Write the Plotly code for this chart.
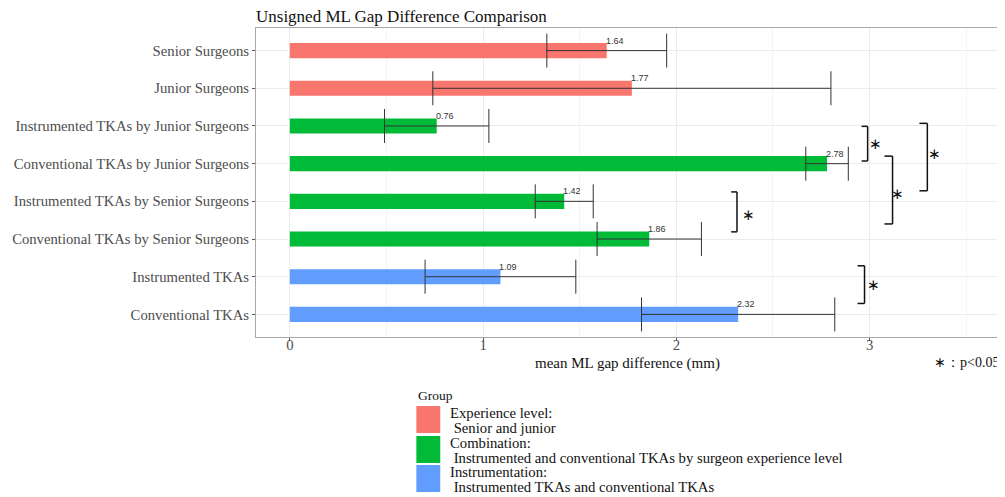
import plotly.graph_objects as go

# ---- data (bottom-to-top order on the y axis) ----
categories = [
    "Conventional TKAs",
    "Instrumented TKAs",
    "Conventional TKAs by Senior Surgeons",
    "Instrumented TKAs by Senior Surgeons",
    "Conventional TKAs by Junior Surgeons",
    "Instrumented TKAs by Junior Surgeons",
    "Junior Surgeons",
    "Senior Surgeons",
]
means = [2.32, 1.09, 1.86, 1.42, 2.78, 0.76, 1.77, 1.64]
errors = [0.50, 0.39, 0.27, 0.15, 0.11, 0.27, 1.03, 0.31]
groups = ["Instrumentation", "Instrumentation", "Combination", "Combination",
          "Combination", "Combination", "Experience", "Experience"]

group_names = ["Experience", "Combination", "Instrumentation"]
group_colors = {"Experience": "#F8766D", "Combination": "#00BA38", "Instrumentation": "#619CFF"}
legend_lines = {
    "Experience": ["Experience level:", " Senior and junior"],
    "Combination": ["Combination:", " Instrumented and conventional TKAs by surgeon experience level"],
    "Instrumentation": ["Instrumentation:", " Instrumented TKAs and conventional TKAs"],
}

# significance brackets: (x_left, x_right, y_top_index, y_bottom_index, star_x, star_y)
brackets = [
    (2.959, 2.990, 4.99, 4.07, 3.03, 4.52),
    (3.258, 3.299, 5.07, 3.28, 3.335, 4.25),
    (3.077, 3.119, 4.20, 2.40, 3.144, 3.20),
    (2.284, 2.314, 3.25, 2.19, 2.371, 2.64),
    (2.938, 2.974, 1.29, 0.29, 3.02, 0.77),
]

SERIF = "Liberation Serif, Times New Roman, serif"

# the page has an 8px body margin; figure is placed at (8, 8)
OFF = 8
W, H = 1005 - OFF, 497 - OFF

fig = go.Figure()
for g in group_names:
    idx = [i for i, gg in enumerate(groups) if gg == g]
    fig.add_trace(go.Bar(
        x=[means[i] for i in idx],
        y=[categories[i] for i in idx],
        orientation="h",
        width=0.4,
        marker=dict(color=group_colors[g], line=dict(width=0)),
        error_x=dict(type="data", array=[errors[i] for i in idx], symmetric=True,
                     color="#333333", thickness=1, width=17),
        name=g,
        showlegend=False,
        hoverinfo="x+y",
    ))

annotations = []
# value labels
for c, m in zip(categories, means):
    annotations.append(dict(
        x=m, y=c, xref="x", yref="y", text=f"{m:.2f}", showarrow=False,
        xanchor="left", yanchor="middle", xshift=-3, yshift=10,
        font=dict(family="Liberation Sans, Arial, sans-serif", size=9, color="#333333"),
    ))

shapes = []
for x0, x1, yt, yb, sx, sy in brackets:
    for (a, b, c, d) in [(x0, yt, x1, yt), (x1, yt, x1, yb), (x0, yb, x1, yb)]:
        shapes.append(dict(type="line", xref="x", yref="y", x0=a, y0=b, x1=c, y1=d,
                           line=dict(color="#111111", width=1.5)))
    annotations.append(dict(x=sx, y=sy, xref="x", yref="y", text="∗", showarrow=False,
                            xanchor="center", yanchor="middle",
                            font=dict(family=SERIF, size=15, color="#111111")))

# pixel (screen) -> paper helpers (plot area on screen: x 254..1001, y 28..337)
L, R, T, B = 254, 1001, 28, 337
def px(x):
    return (x - L) / (R - L)
def py(y):
    return (B - y) / (B - T)

# axis title
annotations.append(dict(x=px(627), y=py(363), xref="paper", yref="paper",
                        text="mean ML gap difference (mm)", showarrow=False,
                        xanchor="center", yanchor="middle",
                        font=dict(family=SERIF, size=15, color="#111111")))

# footnote
annotations.append(dict(x=px(1002), y=py(362), xref="paper", yref="paper",
                        text="∗：p<0.05", showarrow=False, xanchor="right", yanchor="middle",
                        font=dict(family=SERIF, size=14, color="#111111")))

# manual legend
annotations.append(dict(x=px(415), y=py(395), xref="paper", yref="paper", text="Group",
                        showarrow=False, xanchor="left", yanchor="middle",
                        font=dict(family=SERIF, size=13.5, color="#111111")))
key_tops = [406, 436, 465]
for g, top in zip(group_names, key_tops):
    shapes.append(dict(type="rect", xref="paper", yref="paper",
                       x0=px(415), x1=px(439), y0=py(top), y1=py(top + 27),
                       fillcolor=group_colors[g], line=dict(width=0)))
    l1, l2 = legend_lines[g]
    annotations.append(dict(x=px(447), y=py(top + 7), xref="paper", yref="paper", text=l1,
                            showarrow=False, xanchor="left", yanchor="middle",
                            font=dict(family=SERIF, size=14.7, color="#111111")))
    annotations.append(dict(x=px(447), y=py(top + 22), xref="paper", yref="paper",
                            text=l2.replace(" ", "&nbsp;", 1),
                            showarrow=False, xanchor="left", yanchor="middle",
                            font=dict(family=SERIF, size=14.7, color="#111111")))

fig.update_layout(
    width=W, height=H,
    margin=dict(l=L - OFF, r=1005 - R, t=T - OFF, b=497 - B, pad=0),
    paper_bgcolor="white", plot_bgcolor="white",
    barmode="overlay",
    title=dict(text="Unsigned ML Gap Difference Comparison", x=px(254), xref="paper",
               xanchor="left", y=1 - (16 - OFF) / H, yanchor="middle",
               font=dict(family=SERIF, size=17, color="#111111")),
    xaxis=dict(range=[-0.175, 3.675], tickvals=[0, 1, 2, 3], showgrid=True,
               gridcolor="#ebebeb", gridwidth=1,
               minor=dict(dtick=0.5, tick0=0, showgrid=True, gridcolor="#f4f4f4", gridwidth=1),
               zeroline=False, showline=True, mirror=True, linecolor="#a8a8a8", linewidth=1,
               ticks="outside", ticklen=3, tickcolor="#555555", ticklabelstandoff=-9,
               tickfont=dict(family=SERIF, size=14.7, color="#4d4d4d")),
    yaxis=dict(type="category", categoryorder="array", categoryarray=categories,
               range=[-0.6, 7.6], showgrid=True, gridcolor="#ebebeb", gridwidth=1,
               zeroline=False, showline=True, mirror=True, linecolor="#a8a8a8", linewidth=1,
               ticks="outside", ticklen=3, tickcolor="#555555",
               tickfont=dict(family=SERIF, size=14.7, color="#4d4d4d")),
    shapes=shapes,
    annotations=annotations,
)

fig.write_html(
    "out.html",
    post_script="document.documentElement.style.overflow='hidden';document.body.style.overflow='hidden';",
)
